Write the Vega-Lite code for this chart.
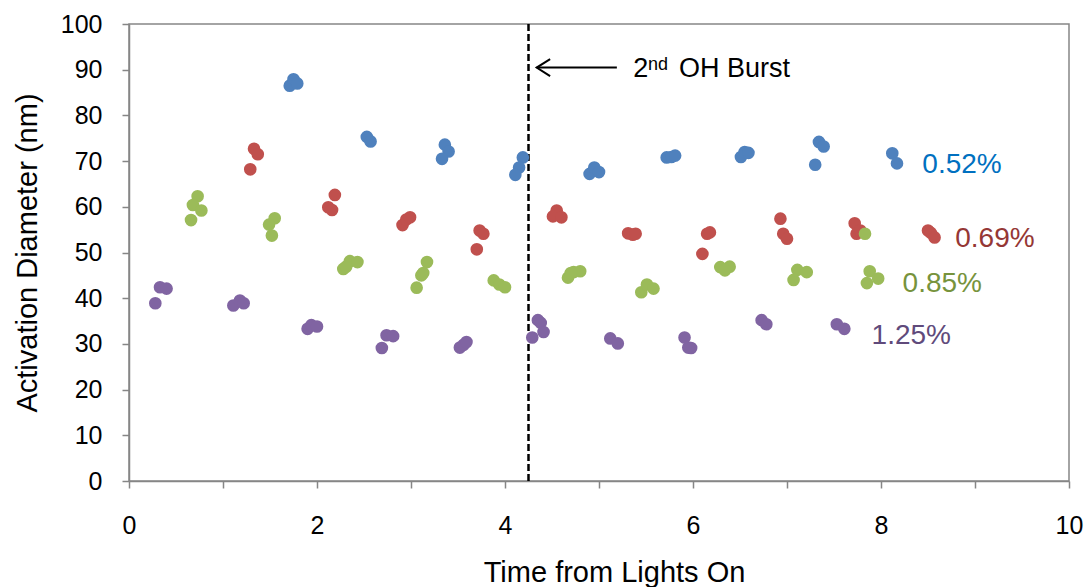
{
  "$schema": "https://vega.github.io/schema/vega-lite/v6.json",
  "width": 940,
  "height": 457,
  "autosize": {"type": "none"},
  "padding": {"left": 129, "top": 24, "right": 23, "bottom": 106},
  "background": "white",
  "config": {
    "font": "Liberation Sans",
    "view": {"stroke": "#868686", "strokeWidth": 1.5},
    "axis": {"grid": false}
  },
  "datasets": {
    "pts": [
      {"s": "0.52%", "x": 1.71, "y": 86.5}, {"s": "0.52%", "x": 1.75, "y": 87.9}, {"s": "0.52%", "x": 1.79, "y": 87.0},
      {"s": "0.52%", "x": 2.53, "y": 75.3}, {"s": "0.52%", "x": 2.57, "y": 74.3},
      {"s": "0.52%", "x": 3.36, "y": 73.6}, {"s": "0.52%", "x": 3.40, "y": 72.1}, {"s": "0.52%", "x": 3.33, "y": 70.5},
      {"s": "0.52%", "x": 4.19, "y": 70.8}, {"s": "0.52%", "x": 4.15, "y": 68.6}, {"s": "0.52%", "x": 4.11, "y": 67.0},
      {"s": "0.52%", "x": 4.90, "y": 67.2}, {"s": "0.52%", "x": 4.95, "y": 68.6}, {"s": "0.52%", "x": 5.00, "y": 67.6},
      {"s": "0.52%", "x": 5.72, "y": 70.8}, {"s": "0.52%", "x": 5.77, "y": 70.9}, {"s": "0.52%", "x": 5.81, "y": 71.2},
      {"s": "0.52%", "x": 6.51, "y": 70.9}, {"s": "0.52%", "x": 6.55, "y": 72.0}, {"s": "0.52%", "x": 6.59, "y": 71.8},
      {"s": "0.52%", "x": 7.34, "y": 74.2}, {"s": "0.52%", "x": 7.39, "y": 73.2}, {"s": "0.52%", "x": 7.30, "y": 69.2},
      {"s": "0.52%", "x": 8.12, "y": 71.7}, {"s": "0.52%", "x": 8.17, "y": 69.5},
      {"s": "0.69%", "x": 1.33, "y": 72.7}, {"s": "0.69%", "x": 1.37, "y": 71.5}, {"s": "0.69%", "x": 1.29, "y": 68.2},
      {"s": "0.69%", "x": 2.19, "y": 62.6}, {"s": "0.69%", "x": 2.12, "y": 59.9}, {"s": "0.69%", "x": 2.16, "y": 59.3},
      {"s": "0.69%", "x": 2.91, "y": 56.0}, {"s": "0.69%", "x": 2.95, "y": 57.2}, {"s": "0.69%", "x": 2.99, "y": 57.7},
      {"s": "0.69%", "x": 3.73, "y": 54.8}, {"s": "0.69%", "x": 3.77, "y": 54.1}, {"s": "0.69%", "x": 3.70, "y": 50.7},
      {"s": "0.69%", "x": 4.55, "y": 59.2}, {"s": "0.69%", "x": 4.51, "y": 57.9}, {"s": "0.69%", "x": 4.60, "y": 57.7},
      {"s": "0.69%", "x": 5.31, "y": 54.2}, {"s": "0.69%", "x": 5.36, "y": 53.9}, {"s": "0.69%", "x": 5.39, "y": 54.1},
      {"s": "0.69%", "x": 6.15, "y": 54.1}, {"s": "0.69%", "x": 6.18, "y": 54.4}, {"s": "0.69%", "x": 6.10, "y": 49.7},
      {"s": "0.69%", "x": 6.93, "y": 57.4}, {"s": "0.69%", "x": 6.96, "y": 54.1}, {"s": "0.69%", "x": 7.00, "y": 53.0},
      {"s": "0.69%", "x": 7.72, "y": 56.4}, {"s": "0.69%", "x": 7.74, "y": 54.1}, {"s": "0.69%", "x": 7.78, "y": 54.8},
      {"s": "0.69%", "x": 8.50, "y": 54.8}, {"s": "0.69%", "x": 8.53, "y": 54.3}, {"s": "0.69%", "x": 8.57, "y": 53.3},
      {"s": "0.85%", "x": 0.73, "y": 62.3}, {"s": "0.85%", "x": 0.68, "y": 60.4}, {"s": "0.85%", "x": 0.77, "y": 59.2}, {"s": "0.85%", "x": 0.66, "y": 57.1},
      {"s": "0.85%", "x": 1.55, "y": 57.5}, {"s": "0.85%", "x": 1.49, "y": 56.1}, {"s": "0.85%", "x": 1.52, "y": 53.7},
      {"s": "0.85%", "x": 2.28, "y": 46.4}, {"s": "0.85%", "x": 2.35, "y": 48.1}, {"s": "0.85%", "x": 2.43, "y": 47.9}, {"s": "0.85%", "x": 2.31, "y": 46.9},
      {"s": "0.85%", "x": 3.17, "y": 47.9}, {"s": "0.85%", "x": 3.11, "y": 45.0}, {"s": "0.85%", "x": 3.06, "y": 42.3}, {"s": "0.85%", "x": 3.13, "y": 45.5},
      {"s": "0.85%", "x": 3.88, "y": 43.9}, {"s": "0.85%", "x": 3.94, "y": 43.0}, {"s": "0.85%", "x": 4.00, "y": 42.4},
      {"s": "0.85%", "x": 4.67, "y": 44.5}, {"s": "0.85%", "x": 4.73, "y": 45.7}, {"s": "0.85%", "x": 4.80, "y": 45.9}, {"s": "0.85%", "x": 4.70, "y": 45.5},
      {"s": "0.85%", "x": 5.45, "y": 41.3}, {"s": "0.85%", "x": 5.51, "y": 43.0}, {"s": "0.85%", "x": 5.58, "y": 42.1},
      {"s": "0.85%", "x": 6.29, "y": 46.8}, {"s": "0.85%", "x": 6.39, "y": 46.9}, {"s": "0.85%", "x": 6.34, "y": 46.1},
      {"s": "0.85%", "x": 7.11, "y": 46.2}, {"s": "0.85%", "x": 7.21, "y": 45.7}, {"s": "0.85%", "x": 7.07, "y": 44.0},
      {"s": "0.85%", "x": 7.88, "y": 45.9}, {"s": "0.85%", "x": 7.97, "y": 44.3}, {"s": "0.85%", "x": 7.85, "y": 43.3},
      {"s": "0.85%", "x": 7.83, "y": 54.1},
      {"s": "1.25%", "x": 0.33, "y": 42.4}, {"s": "1.25%", "x": 0.40, "y": 42.1}, {"s": "1.25%", "x": 0.28, "y": 38.9},
      {"s": "1.25%", "x": 1.11, "y": 38.4}, {"s": "1.25%", "x": 1.18, "y": 39.5}, {"s": "1.25%", "x": 1.22, "y": 38.9},
      {"s": "1.25%", "x": 1.90, "y": 33.3}, {"s": "1.25%", "x": 1.94, "y": 34.1}, {"s": "1.25%", "x": 2.00, "y": 33.8},
      {"s": "1.25%", "x": 2.69, "y": 29.1}, {"s": "1.25%", "x": 2.74, "y": 31.9}, {"s": "1.25%", "x": 2.81, "y": 31.7},
      {"s": "1.25%", "x": 3.52, "y": 29.2}, {"s": "1.25%", "x": 3.56, "y": 29.8}, {"s": "1.25%", "x": 3.59, "y": 30.4},
      {"s": "1.25%", "x": 4.35, "y": 35.2}, {"s": "1.25%", "x": 4.38, "y": 34.6}, {"s": "1.25%", "x": 4.41, "y": 32.6}, {"s": "1.25%", "x": 4.29, "y": 31.4},
      {"s": "1.25%", "x": 5.12, "y": 31.2}, {"s": "1.25%", "x": 5.20, "y": 30.1},
      {"s": "1.25%", "x": 5.91, "y": 31.4}, {"s": "1.25%", "x": 5.98, "y": 29.1}, {"s": "1.25%", "x": 5.95, "y": 29.2},
      {"s": "1.25%", "x": 6.73, "y": 35.2}, {"s": "1.25%", "x": 6.78, "y": 34.3},
      {"s": "1.25%", "x": 7.53, "y": 34.3}, {"s": "1.25%", "x": 7.61, "y": 33.3}
    ],
    "labels": [
      {"s": "0.52%", "x": 8.44, "y": 67.5, "label": "0.52%"},
      {"s": "0.69%", "x": 8.79, "y": 51.3, "label": "0.69%"},
      {"s": "0.85%", "x": 8.23, "y": 41.3, "label": "0.85%"},
      {"s": "1.25%", "x": 7.90, "y": 29.9, "label": "1.25%"}
    ]
  },
  "encoding": {
    "x": {
      "field": "x", "type": "quantitative",
      "scale": {"domain": [0, 10], "nice": false, "zero": false},
      "axis": {
        "values": [0, 1, 2, 3, 4, 5, 6, 7, 8, 9, 10],
        "labelExpr": "datum.value % 2 == 0 ? datum.label : ''",
        "title": "Time from Lights On",
        "domainColor": "#868686", "domainWidth": 1.5,
        "tickColor": "#868686", "tickWidth": 1.5, "tickSize": 7,
        "labelFontSize": 25, "labelColor": "#000000", "labelPadding": 25,
        "labelFlush": false, "labelOverlap": false, "labelBound": false,
        "titleFontSize": 29, "titleFontWeight": "normal", "titleColor": "#000000",
        "titleX": 485, "titleY": 100, "titleBaseline": "alphabetic", "titleAlign": "center"
      }
    },
    "y": {
      "field": "y", "type": "quantitative",
      "scale": {"domain": [0, 100], "nice": false, "zero": false},
      "axis": {
        "values": [0, 10, 20, 30, 40, 50, 60, 70, 80, 90, 100],
        "title": "Activation Diameter (nm)",
        "domainColor": "#868686", "domainWidth": 1.5,
        "tickColor": "#868686", "tickWidth": 1.5, "tickSize": 7,
        "labelFontSize": 25, "labelColor": "#000000", "labelPadding": 20,
        "labelFlush": false, "labelOverlap": false, "labelBound": false,
        "titleFontSize": 29, "titleFontWeight": "normal", "titleColor": "#000000",
        "titleX": -93, "titleY": 228.5, "titleAngle": 270, "titleBaseline": "alphabetic", "titleAlign": "center"
      }
    }
  },
  "layer": [
    {
      "data": {"values": [{"x": 4.25, "y": 0, "y2": 100}]},
      "mark": {"type": "rule", "color": "#000000", "strokeWidth": 2.5, "strokeDash": [7, 3]},
      "encoding": {"y2": {"field": "y2"}}
    },
    {
      "data": {"values": [{"x": 4.337, "x2": 5.19, "y": 90.46}]},
      "mark": {"type": "rule", "color": "#000000", "strokeWidth": 2},
      "encoding": {"x2": {"field": "x2"}}
    },
    {
      "data": {"values": [{"x": 4.48, "y": 92.3, "o": 0}, {"x": 4.337, "y": 90.46, "o": 1}, {"x": 4.48, "y": 88.6, "o": 2}]},
      "mark": {"type": "line", "color": "#000000", "strokeWidth": 2},
      "encoding": {"order": {"field": "o"}}
    },
    {
      "data": {"name": "pts"},
      "mark": {"type": "circle", "size": 160, "opacity": 1},
      "encoding": {
        "color": {
          "field": "s", "type": "nominal", "legend": null,
          "scale": {"domain": ["0.52%", "0.69%", "0.85%", "1.25%"], "range": ["#4F81BD", "#C0504D", "#9BBB59", "#8064A2"]}
        }
      }
    },
    {
      "data": {"name": "labels"},
      "mark": {"type": "text", "fontSize": 28, "align": "left", "baseline": "alphabetic"},
      "encoding": {
        "text": {"field": "label"},
        "color": {
          "field": "s", "type": "nominal", "legend": null,
          "scale": {"domain": ["0.52%", "0.69%", "0.85%", "1.25%"], "range": ["#0070C0", "#953735", "#77933C", "#604A7B"]}
        }
      }
    },
    {
      "data": {"values": [{"x": 5.365, "y": 88.3, "label": "2"}, {"x": 5.85, "y": 88.3, "label": "OH Burst"}]},
      "mark": {"type": "text", "fontSize": 27, "align": "left", "baseline": "alphabetic", "color": "#000000"},
      "encoding": {"text": {"field": "label"}}
    },
    {
      "data": {"values": [{"x": 5.52, "y": 89.9, "label": "nd"}]},
      "mark": {"type": "text", "fontSize": 18, "align": "left", "baseline": "alphabetic", "color": "#000000"},
      "encoding": {"text": {"field": "label"}}
    }
  ],
  "resolve": {"scale": {"color": "independent"}}
}
